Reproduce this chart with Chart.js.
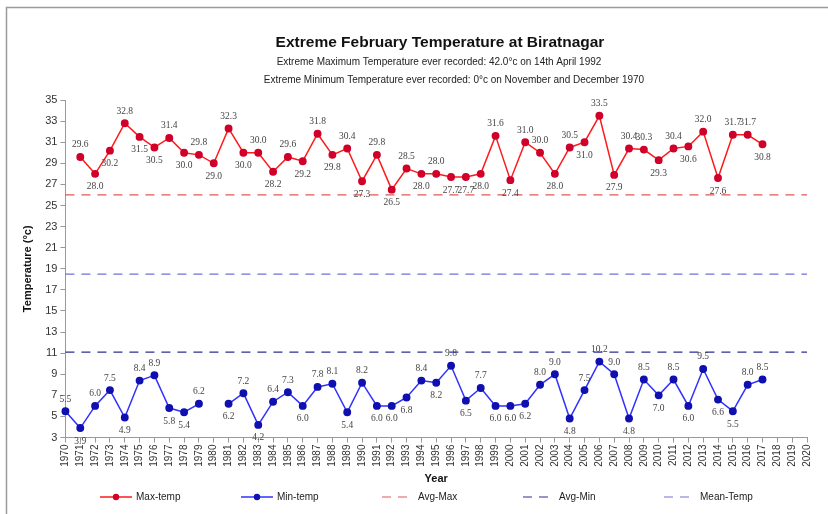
<!DOCTYPE html>
<html>
<head>
  <script src="https://cdn.jsdelivr.net/npm/chart.js"></script>
  <style>
    body { margin: 0; background: #fff; }
    canvas { display: block; }
  </style>
</head>
<body>
  <canvas id="tempChart" width="828" height="514"></canvas>

  <script>
    // Years on the x axis
    var years = [];
    for (var y = 1970; y <= 2020; y++) years.push(String(y));

    // February extreme max temperature, 1970-2017 (1970 missing)
    var maxTemp = [null, 29.6, 28.0, 30.2, 32.8, 31.5, 30.5, 31.4, 30.0, 29.8,
      29.0, 32.3, 30.0, 30.0, 28.2, 29.6, 29.2, 31.8, 29.8, 30.4,
      27.3, 29.8, 26.5, 28.5, 28.0, 28.0, 27.7, 27.7, 28.0, 31.6,
      27.4, 31.0, 30.0, 28.0, 30.5, 31.0, 33.5, 27.9, 30.4, 30.3,
      29.3, 30.4, 30.6, 32.0, 27.6, 31.7, 31.7, 30.8];

    // February extreme min temperature, 1970-2017 (1980 missing)
    var minTemp = [5.5, 3.9, 6.0, 7.5, 4.9, 8.4, 8.9, 5.8, 5.4, 6.2,
      null, 6.2, 7.2, 4.2, 6.4, 7.3, 6.0, 7.8, 8.1, 5.4,
      8.2, 6.0, 6.0, 6.8, 8.4, 8.2, 9.8, 6.5, 7.7, 6.0,
      6.0, 6.2, 8.0, 9.0, 4.8, 7.5, 10.2, 9.0, 4.8, 8.5,
      7.0, 8.5, 6.0, 9.5, 6.6, 5.5, 8.0, 8.5];

    var avgMax = 26.0;
    var avgMin = 11.1;
    var meanTemp = 18.5;

    var yTicks = { min: 3, max: 35, step: 2 };

    var titleText = 'Extreme February Temperature at Biratnagar';
    var subText1 = 'Extreme Maximum Temperature ever recorded: 42.0\u00b0c on 14th April 1992';
    var subText2 = 'Extreme Minimum Temperature ever recorded: 0\u00b0c on November and December 1970';

    function flatLine(v) {
      return [{ x: years[0], y: v }, { x: years[years.length - 1], y: v }];
    }

    // titles, frame and value labels
    var decorPlugin = {
      id: 'decor',
      afterDraw: function(chart) {
        var ctx = chart.ctx;
        ctx.save();
        // frame (left and top edges only, like the original)
        ctx.strokeStyle = '#9a9a9a';
        ctx.lineWidth = 1.5;
        ctx.beginPath();
        ctx.moveTo(6.5, 514);
        ctx.lineTo(6.5, 7.5);
        ctx.lineTo(828, 7.5);
        ctx.stroke();

        ctx.textAlign = 'center';
        ctx.textBaseline = 'middle';
        ctx.fillStyle = '#111';
        ctx.font = 'bold 15.5px "Liberation Sans", Arial, sans-serif';
        ctx.fillText(titleText, 440, 43);
        ctx.font = '10px "Liberation Sans", Arial, sans-serif';
        ctx.fillStyle = '#222';
        ctx.fillText(subText1, 439, 62);
        ctx.fillText(subText2, 454, 80);

        // value labels for the two data series
        ctx.font = '9.5px "Liberation Serif", "Times New Roman", serif';
        ctx.fillStyle = '#444';
        [0, 1].forEach(function(di) {
          var ds = chart.data.datasets[di];
          var meta = chart.getDatasetMeta(di);
          meta.data.forEach(function(pt, i) {
            var v = ds.data[i];
            if (v === null || v === undefined) return;
            var prev = ds.data[i - 1], next = ds.data[i + 1];
            var nb = [];
            if (prev !== null && prev !== undefined) nb.push(prev);
            if (next !== null && next !== undefined) nb.push(next);
            var avg = nb.length ? nb.reduce(function(a, b) { return a + b; }, 0) / nb.length : v - 1;
            var dy = v >= avg ? -12 : 13;
            ctx.fillText(v.toFixed(1), pt.x, pt.y + dy);
          });
        });
        ctx.restore();
      }
    };

    // legend along the bottom
    var legendPlugin = {
      id: 'bottomLegend',
      afterDraw: function(chart) {
        var ctx = chart.ctx;
        var startX = 100, step = 141, yy = 497;
        ctx.save();
        ctx.font = '10px "Liberation Sans", Arial, sans-serif';
        ctx.textAlign = 'left';
        ctx.textBaseline = 'middle';
        chart.data.datasets.forEach(function(ds, i) {
          var x = startX + i * step;
          ctx.strokeStyle = ds.borderColor;
          ctx.lineWidth = ds.borderWidth;
          ctx.setLineDash(ds.borderDash || []);
          ctx.beginPath();
          ctx.moveTo(x, yy);
          ctx.lineTo(x + 32, yy);
          ctx.stroke();
          ctx.setLineDash([]);
          if (ds.pointRadius) {
            ctx.fillStyle = ds.pointBackgroundColor;
            ctx.beginPath();
            ctx.arc(x + 16, yy, ds.pointRadius, 0, Math.PI * 2);
            ctx.fill();
          }
          ctx.fillStyle = '#222';
          ctx.fillText(ds.label, x + 36, yy);
        });
        ctx.restore();
      }
    };

    var config = {
      type: 'line',
      data: {
        labels: years,
        datasets: [{
          label: 'Max-temp',
          data: maxTemp,
          borderColor: '#ff1a1a',
          borderWidth: 1.5,
          pointRadius: 3.2,
          pointBackgroundColor: '#d0002a',
          pointBorderColor: '#d0002a',
          spanGaps: false
        }, {
          label: 'Min-temp',
          data: minTemp,
          borderColor: '#3030ff',
          borderWidth: 1.5,
          pointRadius: 3.2,
          pointBackgroundColor: '#1010b0',
          pointBorderColor: '#1010b0',
          spanGaps: false
        }, {
          label: 'Avg-Max',
          data: flatLine(avgMax),
          borderColor: '#e05858',
          borderWidth: 1.2,
          borderDash: [9, 7],
          pointRadius: 0
        }, {
          label: 'Avg-Min',
          data: flatLine(avgMin),
          borderColor: '#2c2c9a',
          borderWidth: 1.2,
          borderDash: [9, 7],
          pointRadius: 0
        }, {
          label: 'Mean-Temp',
          data: flatLine(meanTemp),
          borderColor: '#7070d8',
          borderWidth: 1.2,
          borderDash: [9, 7],
          pointRadius: 0
        }]
      },
      options: {
        responsive: false,
        animation: false,
        layout: { padding: { top: 100, left: 21, right: 21, bottom: 28 } },
        plugins: {
          legend: { display: false },
          title: { display: false },
          tooltip: { enabled: false }
        },
        scales: {
          x: {
            offset: false,
            grid: { display: true, drawOnChartArea: false, drawTicks: true, tickLength: 5, color: '#999' },
            border: { display: true, color: '#999' },
            ticks: {
              autoSkip: false, minRotation: 90, maxRotation: 90, padding: 2,
              color: '#333', font: { size: 10, family: '"Liberation Sans", Arial, sans-serif' }
            },
            title: {
              display: true, text: 'Year', color: '#111', padding: { top: 4, bottom: 0 },
              font: { size: 11, weight: 'bold', family: '"Liberation Sans", Arial, sans-serif' }
            }
          },
          y: {
            min: yTicks.min,
            max: yTicks.max,
            grid: { display: true, drawOnChartArea: false, drawTicks: true, tickLength: 5, color: '#999' },
            border: { display: true, color: '#999' },
            ticks: {
              stepSize: yTicks.step, padding: 3, color: '#333',
              font: { size: 11, family: '"Liberation Sans", Arial, sans-serif' }
            },
            title: {
              display: true, text: 'Temperature (\u00b0c)', color: '#111', padding: { top: 0, bottom: 8 },
              font: { size: 11, weight: 'bold', family: '"Liberation Sans", Arial, sans-serif' }
            }
          }
        }
      },
      plugins: [decorPlugin, legendPlugin]
    };

    var ctx = document.getElementById('tempChart').getContext('2d');
    new Chart(ctx, config);
  </script>
</body>
</html>
